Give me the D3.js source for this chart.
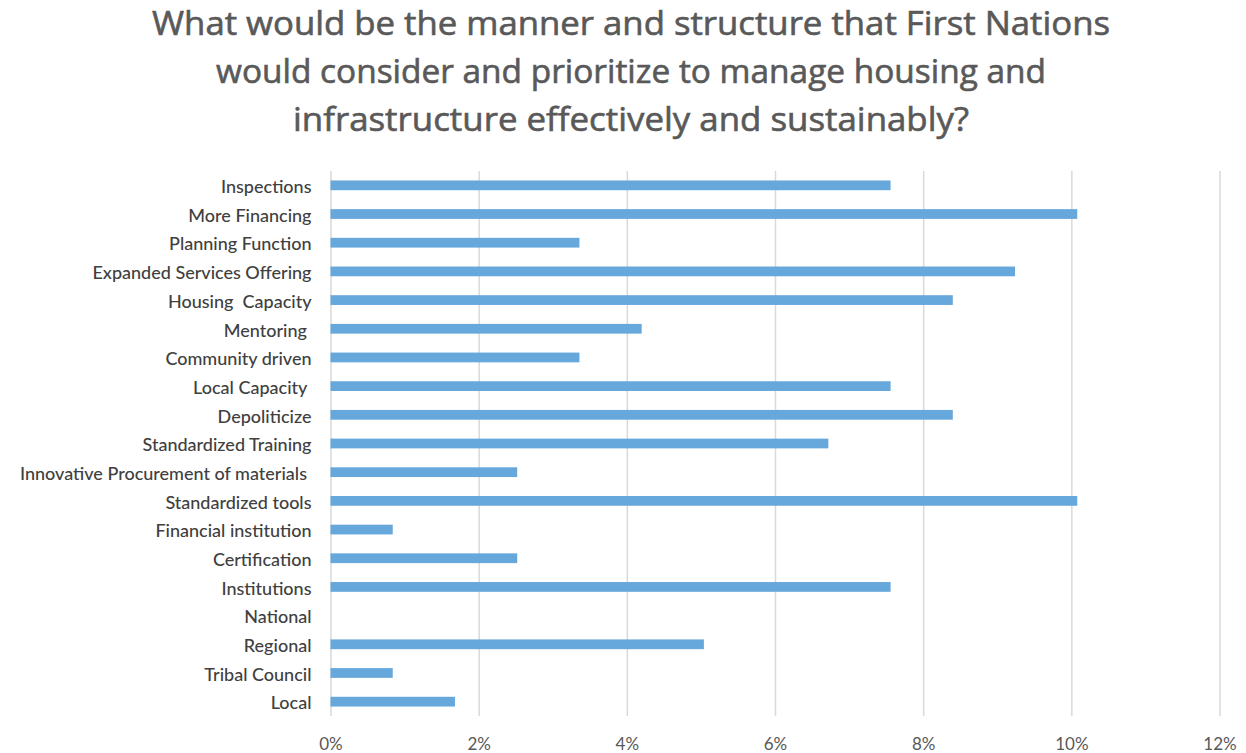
<!DOCTYPE html>
<html>
<head>
<meta charset="utf-8">
<script src="https://cdn.jsdelivr.net/npm/d3@7"></script>
<style>
  html, body { margin: 0; padding: 0; background: #ffffff; }
  svg text { white-space: pre; }
</style>
</head>
<body>
<svg id="chart" width="1246" height="753"></svg>
<script>
// Survey responses (share of all responses, %)
const categories = [
  "Inspections",
  "More Financing",
  "Planning Function",
  "Expanded Services Offering",
  "Housing  Capacity",
  "Mentoring ",
  "Community driven",
  "Local Capacity ",
  "Depoliticize",
  "Standardized Training",
  "Innovative Procurement of materials ",
  "Standardized tools",
  "Financial institution",
  "Certification",
  "Institutions",
  "National",
  "Regional",
  "Tribal Council",
  "Local"
];
const shares = [7.56, 10.08, 3.36, 9.24, 8.40, 4.20, 3.36, 7.56, 8.40, 6.72, 2.52, 10.08, 0.84, 2.52, 7.56, 0, 5.04, 0.84, 1.68];
const tickValues = [0, 2, 4, 6, 8, 10, 12];
const titleLines = [
  "What would be the manner and structure that First Nations",
  "would consider and prioritize to manage housing and",
  "infrastructure effectively and sustainably?"
];
const titleWidths = [958, 830, 676];

const svg = d3.select("#chart");
const FONT = "Lato, 'Open Sans', sans-serif";
const TITLE_FONT = "'Open Sans', Lato, sans-serif";

const x = d3.scaleLinear().domain([0, 12]).range([330.5, 1219.5]);
const y = d3.scaleBand().domain(categories).range([171, 716]).paddingInner(0.66).paddingOuter(0.33);

// Title, three centred lines
svg.append("g").selectAll("text")
  .data(titleLines)
  .join("text")
  .attr("x", 631)
  .attr("y", (d, i) => 35 + i * 48)
  .attr("text-anchor", "middle")
  .attr("font-family", TITLE_FONT)
  .attr("font-size", 32)
  .attr("fill", "#595959")
  .attr("stroke", "#595959")
  .attr("stroke-width", 0.6)
  .attr("textLength", (d, i) => titleWidths[i])
  .attr("lengthAdjust", "spacingAndGlyphs")
  .text(d => d);

// Vertical gridlines and percentage ticks
const xAxis = d3.axisBottom(x)
  .tickValues(tickValues)
  .tickSize(-(716 - 171))
  .tickPadding(22)
  .tickFormat(d => d + "%");

const gx = svg.append("g")
  .attr("transform", "translate(0,716)")
  .call(xAxis);
gx.select(".domain").remove();
gx.selectAll(".tick line").attr("stroke", "#d9d9d9").attr("stroke-width", 1.5);
gx.selectAll(".tick text")
  .attr("font-family", FONT)
  .attr("font-size", 17)
  .attr("fill", "#595959");

// Category axis
const yAxis = d3.axisLeft(y).tickSize(0).tickPadding(19);
const gy = svg.append("g")
  .attr("transform", "translate(330.5,2)")
  .call(yAxis);
gy.select(".domain").remove();
gy.selectAll(".tick text")
  .attr("font-family", FONT)
  .attr("font-size", 18)
  .attr("font-weight", 500)
  .attr("fill", "#404040");

// Bars
svg.append("g").selectAll("rect")
  .data(categories.map((c, i) => ({ c, v: shares[i] })))
  .join("rect")
  .attr("x", x(0))
  .attr("y", d => y(d.c))
  .attr("width", d => x(d.v) - x(0))
  .attr("height", y.bandwidth())
  .attr("fill", "#66a7dc");
</script>
</body>
</html>
